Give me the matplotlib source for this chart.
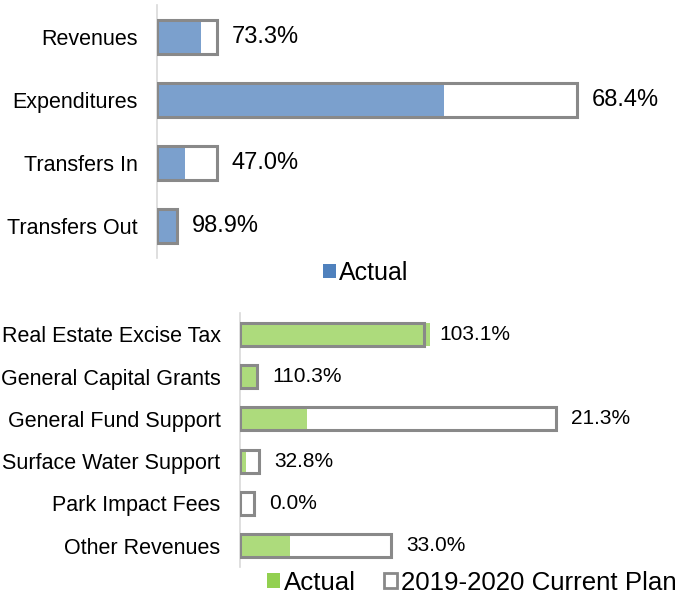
import matplotlib.pyplot as plt
from matplotlib.patches import Patch

plt.rcParams['font.family'] = ['Liberation Sans', 'DejaVu Sans']

# Top chart: summary (values in relative units)
top_cats = ['Revenues', 'Expenditures', 'Transfers In', 'Transfers Out']
top_plan = [60, 420, 60, 20]
top_actual = [44, 287, 28, 19.5]
top_pct = ['73.3%', '68.4%', '47.0%', '98.9%']

# Bottom chart: revenue sources
bot_cats = ['Real Estate Excise Tax', 'General Capital Grants', 'General Fund Support',
            'Surface Water Support', 'Park Impact Fees', 'Other Revenues']
bot_plan = [184, 17, 316, 19, 14, 151]
bot_actual = [190, 18.7, 67, 6.2, 0, 50]
bot_pct = ['103.1%', '110.3%', '21.3%', '32.8%', '0.0%', '33.0%']

blue = '#4F81BD'
green = '#92D050'
gray = '#898989'

fig = plt.figure(figsize=(6.89, 5.97), dpi=100)


def draw(ax, cats, plan, actual, pct, color, height, pct_size, xmax):
    y = list(range(len(cats)))
    ax.barh(y, plan, height=height, color='white', zorder=1)
    ax.barh(y, actual, height=height, color=color, alpha=0.75, zorder=2)
    ax.barh(y, plan, height=height, facecolor='none', edgecolor=gray, linewidth=2.2, zorder=3)
    for yi, p, t in zip(y, plan, pct):
        ax.text(p + 15, yi, t, va='center', ha='left', fontsize=pct_size)
    ax.set_yticks(y)
    ax.set_yticklabels(cats, fontsize=15.5)
    ax.set_ylim(len(cats) - 0.5, -0.5)
    ax.set_xlim(0, xmax)
    ax.tick_params(axis='y', length=0, pad=14)
    ax.set_xticks([])
    for s in ['top', 'right', 'bottom']:
        ax.spines[s].set_visible(False)
    ax.spines['left'].set_color('#d9d9d9')
    ax.spines['left'].set_linewidth(1.2)


ax1 = fig.add_axes([157 / 689, 1 - 258 / 597, 532 / 689, 253 / 597])
draw(ax1, top_cats, top_plan, top_actual, top_pct, blue, 0.54, 17, 532)

ax2 = fig.add_axes([240 / 689, 1 - 567 / 597, 449 / 689, 254 / 597])
draw(ax2, bot_cats, bot_plan, bot_actual, bot_pct, green, 0.55, 15, 449)

fig.legend(handles=[Patch(facecolor=blue, edgecolor='none', label='Actual')],
           loc='center', bbox_to_anchor=(366 / 689, 1 - 273 / 597), frameon=False,
           fontsize=18, handlelength=0.5, handleheight=0.5, handletextpad=0.15,
           borderpad=0, borderaxespad=0)

fig.legend(handles=[Patch(facecolor=green, edgecolor='none', label='Actual'),
                    Patch(facecolor='white', edgecolor=gray, linewidth=2,
                          label='2019-2020 Current Plan')],
           loc='center', bbox_to_anchor=(472 / 689, 1 - 583 / 597), frameon=False,
           ncol=2, fontsize=18.6, handlelength=0.5, handleheight=0.5, handletextpad=0.15,
           columnspacing=1.1, borderpad=0, borderaxespad=0)

fig.savefig('out.png', dpi=100)
